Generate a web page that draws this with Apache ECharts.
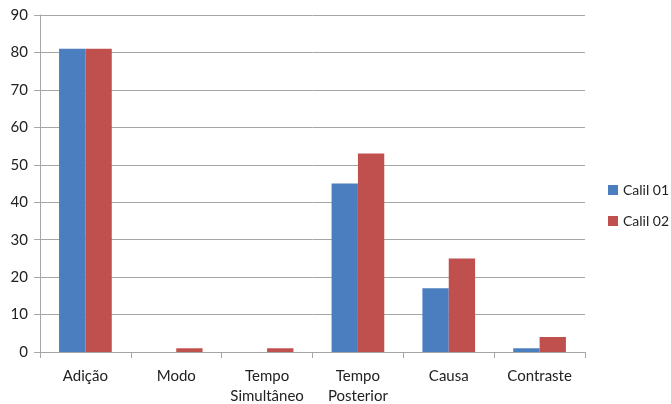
<!DOCTYPE html>
<html>
<head>
<meta charset="utf-8">
<script src="https://cdn.jsdelivr.net/npm/echarts@6/dist/echarts.min.js"></script>
<style>
  html, body { margin: 0; padding: 0; background: #fff; }
  #chart { width: 671px; height: 404px; }
</style>
</head>
<body>
<div id="chart"></div>
<script>
// categories and values
const categories = ["Adição", "Modo", "Tempo\nSimultâneo", "Tempo\nPosterior", "Causa", "Contraste"];
const calil01 = [81, 0, 0, 45, 17, 1];
const calil02 = [81, 1, 1, 53, 25, 4];

const chart = echarts.init(document.getElementById("chart"));

const axisGray = "#a6a6a6";
const textColor = "#222";
const font = "Lato";

chart.setOption({
  animation: false,
  textStyle: { fontFamily: font },
  grid: { left: 40, right: 86, top: 15, bottom: 52, outerBoundsMode: "none" },
  legend: {
    orient: "vertical",
    left: 603,
    top: 178,
    itemWidth: 10,
    itemHeight: 10,
    itemGap: 17,
    icon: "rect",
    textStyle: { fontSize: 14, color: textColor, fontFamily: font },
    data: ["Calil 01", "Calil 02"]
  },
  xAxis: {
    type: "category",
    data: categories,
    axisLine: { lineStyle: { color: axisGray } },
    axisTick: { show: true, length: 6, lineStyle: { color: axisGray } },
    axisLabel: { color: textColor, fontSize: 15, lineHeight: 20, margin: 14, interval: 0 }
  },
  yAxis: {
    type: "value",
    min: 0,
    max: 90,
    interval: 10,
    axisLine: { show: true, lineStyle: { color: axisGray } },
    axisTick: { show: true, length: 6, lineStyle: { color: axisGray } },
    axisLabel: { color: textColor, fontSize: 15, margin: 12 },
    splitLine: { lineStyle: { color: axisGray } }
  },
  series: [
    {
      name: "Calil 01",
      type: "bar",
      data: calil01,
      itemStyle: { color: "#4a7ebf" },
      barGap: "0%",
      barCategoryGap: "42%"
    },
    {
      name: "Calil 02",
      type: "bar",
      data: calil02,
      itemStyle: { color: "#c0504d" }
    }
  ]
});
</script>
</body>
</html>
